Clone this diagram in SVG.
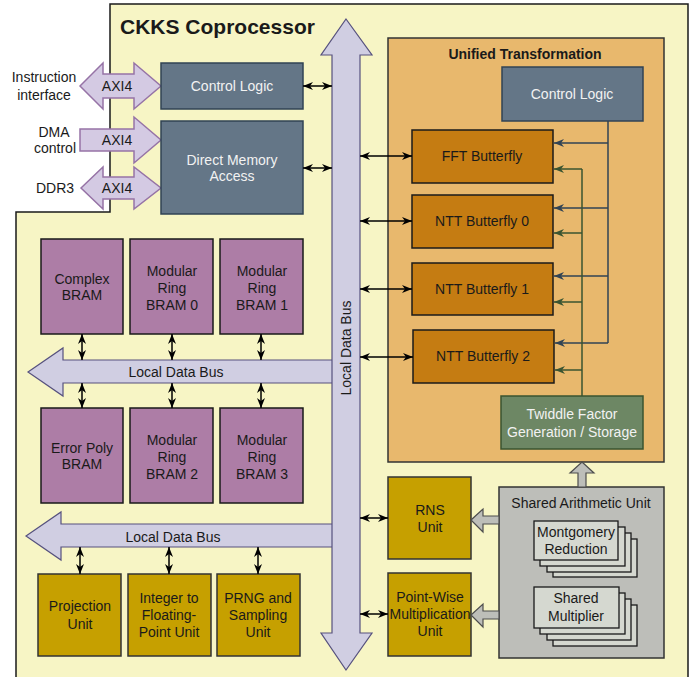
<svg xmlns="http://www.w3.org/2000/svg" width="696" height="677" viewBox="0 0 696 677">
<defs>
<style>
text{font-family:"Liberation Sans",Arial,sans-serif;font-size:14px;text-anchor:middle;fill:#1a1a1a}
.w{fill:#f2f2f2}
.slate{fill:#647687;stroke:#314354;stroke-width:1.5}
.bfly{fill:#c57c12;stroke:#1a1a1a;stroke-width:1.5}
.bram{fill:#ad7da6;stroke:#1a1a1a;stroke-width:1.5}
.gold{fill:#c6a000;stroke:#333;stroke-width:1.5}
.bus{fill:#d0cee2;stroke:#56517e;stroke-width:1.2}
.axi{fill:#d4cae3;stroke:#9673a6;stroke-width:1.5}
.garr{fill:#bdbeb9;stroke:#4d4d4d;stroke-width:1.2}
.stk{fill:#d5d8d0;stroke:#1a1a1a;stroke-width:1.3}
.dbl{stroke:#000;stroke-width:1.5;fill:none;marker-start:url(#ab);marker-end:url(#ab)}
.bl{stroke:#314354;stroke-width:1.5;fill:none}
.gr{stroke:#3a5431;stroke-width:1.5;fill:none}
</style>
<marker id="ab" viewBox="0 0 10 8" markerWidth="10" markerHeight="8" refX="10" refY="4" orient="auto-start-reverse" markerUnits="userSpaceOnUse"><path d="M0,0 L10,4 L0,8 L3,4 Z" fill="#000"/></marker>
<marker id="ablue" viewBox="0 0 10 8" markerWidth="10" markerHeight="8" refX="10" refY="4" orient="auto" markerUnits="userSpaceOnUse"><path d="M0,0 L10,4 L0,8 L3,4 Z" fill="#314354"/></marker>
<marker id="agreen" viewBox="0 0 10 8" markerWidth="10" markerHeight="8" refX="10" refY="4" orient="auto" markerUnits="userSpaceOnUse"><path d="M0,0 L10,4 L0,8 L3,4 Z" fill="#3a5431"/></marker>
</defs>

<g id="coprocessor">
<path d="M110,4 H688 V682 H16 V212 H110 Z" fill="#f7f5c5" stroke="#1a1a1a" stroke-width="1.5"/>
<text x="120" y="34" style="font-size:21px;font-weight:bold;text-anchor:start">CKKS Coprocessor</text>
</g>

<g id="unified-transformation">
<rect x="388" y="38" width="276" height="424" fill="#e8b86d" stroke="#333" stroke-width="1.5"/>
<text x="525" y="59" style="font-weight:bold">Unified Transformation</text>
</g>

<g id="local-bus-1">
<path class="bus" d="M28,372 L63,348 L63,360 L334,360 L334,383 L63,383 L63,396 Z"/>
<text x="176" y="377">Local Data Bus</text>
</g>
<g id="local-bus-2">
<path class="bus" d="M26,536 L61,512 L61,524 L334,524 L334,547 L61,547 L61,560 Z"/>
<text x="173" y="542">Local Data Bus</text>
</g>
<g id="main-bus">
<path class="bus" d="M346,19 L372,55 L360,55 L360,633 L372,633 L346,670 L321,633 L332,633 L332,55 L321,55 Z"/>
<text x="0" y="0" transform="translate(351,348) rotate(-90)">Local Data Bus</text>
</g>

<g id="axi-instr">
<path class="axi" d="M80,86 L103,63 L103,74 L134,74 L134,63 L161,86 L134,109 L134,98 L103,98 L103,109 Z"/>
<text x="117" y="91">AXI4</text>
<text x="44" y="82">Instruction</text>
<text x="44" y="100">interface</text>
</g>
<g id="axi-dma">
<path class="axi" d="M80,129 L134,129 L134,117 L161,140 L134,163 L134,151 L80,151 Z"/>
<text x="117" y="145">AXI4</text>
<text x="54" y="137">DMA</text>
<text x="55" y="153">control</text>
</g>
<g id="axi-ddr">
<path class="axi" d="M81,188 L103,167 L103,177 L134,177 L134,167 L161,188 L134,209 L134,199 L103,199 L103,209 Z"/>
<text x="117" y="193">AXI4</text>
<text x="55" y="193">DDR3</text>
</g>

<g id="control-logic">
<rect class="slate" x="161" y="63" width="142" height="46"/>
<text class="w" x="232" y="91">Control Logic</text>
</g>
<g id="dma">
<rect class="slate" x="161" y="121" width="142" height="93"/>
<text class="w" x="232" y="165">Direct Memory</text>
<text class="w" x="232" y="181">Access</text>
</g>

<g id="ut-control-logic">
<rect class="slate" x="502" y="67" width="141" height="54"/>
<text class="w" x="572" y="99">Control Logic</text>
</g>
<g id="fft-butterfly">
<rect class="bfly" x="412" y="130" width="141" height="53"/>
<text x="482" y="161">FFT Butterfly</text>
</g>
<g id="ntt-butterfly-0">
<rect class="bfly" x="412" y="195" width="141" height="53"/>
<text x="482" y="226">NTT Butterfly 0</text>
</g>
<g id="ntt-butterfly-1">
<rect class="bfly" x="412" y="263" width="141" height="52"/>
<text x="482" y="294">NTT Butterfly 1</text>
</g>
<g id="ntt-butterfly-2">
<rect class="bfly" x="413" y="330" width="141" height="53"/>
<text x="483" y="361">NTT Butterfly 2</text>
</g>
<g id="twiddle">
<rect x="501" y="396" width="142" height="53" fill="#6d8764" stroke="#3a5431" stroke-width="1.5"/>
<text class="w" x="572" y="419">Twiddle Factor</text>
<text class="w" x="572" y="437">Generation / Storage</text>
</g>

<g id="complex-bram"><rect class="bram" x="41" y="239" width="82" height="95"/><text x="82" y="284">Complex</text><text x="82" y="300">BRAM</text></g>
<g id="mr-bram-0"><rect class="bram" x="130" y="239" width="83" height="95"/><text x="172" y="276">Modular</text><text x="172" y="293">Ring</text><text x="172" y="310">BRAM 0</text></g>
<g id="mr-bram-1"><rect class="bram" x="220" y="239" width="83" height="95"/><text x="262" y="276">Modular</text><text x="262" y="293">Ring</text><text x="262" y="310">BRAM 1</text></g>
<g id="error-poly-bram"><rect class="bram" x="41" y="408" width="82" height="95"/><text x="82" y="453">Error Poly</text><text x="82" y="469">BRAM</text></g>
<g id="mr-bram-2"><rect class="bram" x="130" y="408" width="83" height="95"/><text x="172" y="445">Modular</text><text x="172" y="462">Ring</text><text x="172" y="479">BRAM 2</text></g>
<g id="mr-bram-3"><rect class="bram" x="220" y="408" width="83" height="95"/><text x="262" y="445">Modular</text><text x="262" y="462">Ring</text><text x="262" y="479">BRAM 3</text></g>

<g id="projection-unit"><rect class="gold" x="38" y="574" width="83" height="82"/><text x="80" y="611">Projection</text><text x="80" y="629">Unit</text></g>
<g id="int-to-float"><rect class="gold" x="128" y="574" width="83" height="82"/><text x="169" y="603">Integer to</text><text x="169" y="620">Floating-</text><text x="169" y="637">Point Unit</text></g>
<g id="prng"><rect class="gold" x="217" y="574" width="83" height="82"/><text x="258" y="603">PRNG and</text><text x="258" y="620">Sampling</text><text x="258" y="637">Unit</text></g>

<g id="rns-unit"><rect class="gold" x="388" y="477" width="83" height="82"/><text x="430" y="515">RNS</text><text x="430" y="532">Unit</text></g>
<g id="pointwise-unit"><rect class="gold" x="388" y="573" width="83" height="83"/><text x="430" y="602">Point-Wise</text><text x="430" y="619">Multiplication</text><text x="430" y="636">Unit</text></g>

<g id="shared-arithmetic-unit">
<rect x="499" y="487" width="165" height="171" fill="#bdbeb9" stroke="#333" stroke-width="1.5"/>
<text x="581" y="508">Shared Arithmetic Unit</text>
</g>
<g id="montgomery">
<rect class="stk" x="553" y="539" width="84" height="38"/>
<rect class="stk" x="547" y="533" width="84" height="39"/>
<rect class="stk" x="540" y="527" width="85" height="39"/>
<rect class="stk" x="534" y="521" width="84" height="39"/>
<text x="576" y="537">Montgomery</text>
<text x="576" y="554">Reduction</text>
</g>
<g id="shared-multiplier">
<rect class="stk" x="553" y="605" width="84" height="41"/>
<rect class="stk" x="547" y="599" width="84" height="41"/>
<rect class="stk" x="540" y="593" width="85" height="41"/>
<rect class="stk" x="534" y="587" width="85" height="41"/>
<text x="576" y="603">Shared</text>
<text x="576" y="621">Multiplier</text>
</g>

<g id="connectors">
<path class="garr" d="M471,520 L483,509 L483,516 L499,516 L499,524 L483,524 L483,532 Z"/>
<path class="garr" d="M471,615 L483,604 L483,611 L499,611 L499,619 L483,619 L483,627 Z"/>
<path class="garr" d="M582,462 L594,473 L586,473 L586,487 L578,487 L578,473 L570,473 Z"/>
<line class="dbl" x1="303" y1="86" x2="332" y2="86"/>
<line class="dbl" x1="303" y1="168" x2="332" y2="168"/>
<line class="dbl" x1="360" y1="156" x2="412" y2="156"/>
<line class="dbl" x1="360" y1="221" x2="412" y2="221"/>
<line class="dbl" x1="360" y1="289" x2="412" y2="289"/>
<line class="dbl" x1="360" y1="357" x2="413" y2="357"/>
<line class="dbl" x1="360" y1="518" x2="388" y2="518"/>
<line class="dbl" x1="360" y1="614" x2="388" y2="614"/>
<line class="dbl" x1="82" y1="334" x2="82" y2="360"/>
<line class="dbl" x1="172" y1="334" x2="172" y2="360"/>
<line class="dbl" x1="261" y1="334" x2="261" y2="360"/>
<line class="dbl" x1="82" y1="383" x2="82" y2="408"/>
<line class="dbl" x1="172" y1="383" x2="172" y2="408"/>
<line class="dbl" x1="261" y1="383" x2="261" y2="408"/>
<line class="dbl" x1="80" y1="547" x2="80" y2="574"/>
<line class="dbl" x1="169" y1="547" x2="169" y2="574"/>
<line class="dbl" x1="258" y1="547" x2="258" y2="574"/>
<path class="bl" d="M608,121 V343"/>
<path class="bl" d="M608,143 H554" marker-end="url(#ablue)"/>
<path class="bl" d="M608,208 H554" marker-end="url(#ablue)"/>
<path class="bl" d="M608,276 H554" marker-end="url(#ablue)"/>
<path class="bl" d="M608,343 H555" marker-end="url(#ablue)"/>
<path class="gr" d="M582,396 V169"/>
<path class="gr" d="M582,169 H554" marker-end="url(#agreen)"/>
<path class="gr" d="M582,233 H554" marker-end="url(#agreen)"/>
<path class="gr" d="M582,302 H554" marker-end="url(#agreen)"/>
<path class="gr" d="M582,370 H555" marker-end="url(#agreen)"/>
</g>
</svg>
